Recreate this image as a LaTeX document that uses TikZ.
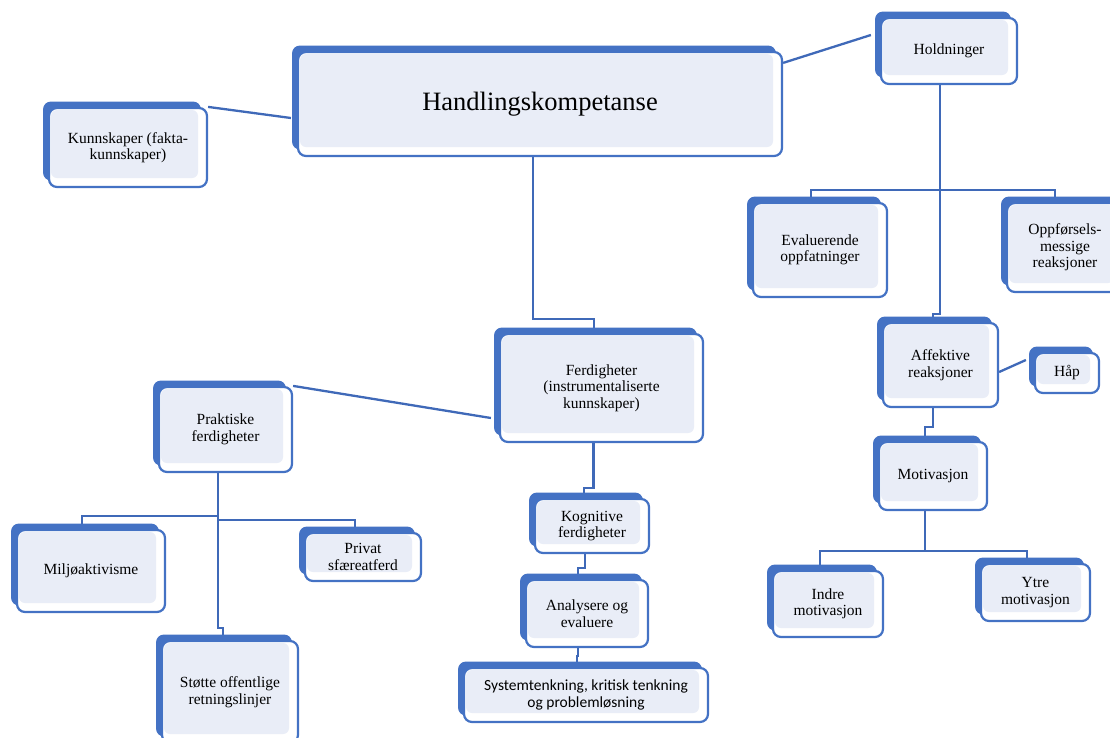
\documentclass[tikz,border=0pt]{standalone}
\usepackage{fontspec}
\setmainfont{Liberation Serif}
\newfontfamily\sysfont{Carlito}
\usepackage{xcolor}
\usepackage{tikz}
\usetikzlibrary{shadows,backgrounds}
\definecolor{boxblue}{HTML}{4472C4}
\definecolor{lineblue}{HTML}{3F69B8}
\definecolor{boxfill}{HTML}{E9EDF7}

\tikzset{
  kbox/.style={draw=boxblue, line width=2.2pt, fill=white, rounded corners=8pt,
    inner sep=0pt, align=center, font=\fontsize{15.5}{16.5}\selectfont,
    general shadow={fill=boxblue, draw=none, shadow xshift=-6pt, shadow yshift=6.5pt},
    path picture={\fill[boxfill, rounded corners=6pt]
      ([shift={(2pt,-2pt)}]path picture bounding box.north west) rectangle
      ([shift={(-9pt,9pt)}]path picture bounding box.south east);}},
  link/.style={draw=lineblue, line width=2.3pt},
}

\begin{document}
\begin{tikzpicture}[x=1pt,y=-1pt]
\useasboundingbox (0,0) rectangle (1110,737);

\node[kbox, minimum width=484pt, minimum height=104pt, font=\fontsize{26.5}{28}\selectfont] (hk) at (540,104) {Handlingskompetanse};
\node[kbox, minimum width=158pt, minimum height=79pt] (kunn) at (128,147.5) {Kunnskaper (fakta-\\kunnskaper)};
\node[kbox, minimum width=136pt, minimum height=66pt] (hold) at (949,51) {Holdninger};

% ferdigheter
\node[kbox, minimum width=203pt, minimum height=108pt] (ferd) at (601.5,388) {Ferdigheter\\(instrumentaliserte\\kunnskaper)};
\node[kbox, minimum width=133pt, minimum height=85pt] (prak) at (225.5,429.5) {Praktiske\\ferdigheter};
\node[kbox, minimum width=148pt, minimum height=82pt] (milj) at (91,571) {Miljøaktivisme};
\node[kbox, minimum width=116pt, minimum height=48pt] (priv) at (363,557) {Privat\\sfæreatferd};
\node[kbox, minimum width=136pt, minimum height=102pt] (stotte) at (230,692) {Støtte offentlige\\retningslinjer};
\node[kbox, minimum width=114pt, minimum height=54pt] (kog) at (592,526) {Kognitive\\ferdigheter};
\node[kbox, minimum width=122pt, minimum height=67pt] (ana) at (587,613.5) {Analysere og\\evaluere};
\node[kbox, minimum width=244pt, minimum height=54pt, font=\sysfont\fontsize{15.5}{16.5}\selectfont] (sys) at (586,695) {Systemtenkning, kritisk tenkning\\og problemløsning};

% holdninger
\node[kbox, minimum width=134pt, minimum height=94pt] (eval) at (820,250) {Evaluerende\\oppfatninger};
\node[kbox, minimum width=116pt, minimum height=89pt] (oppf) at (1065,247.5) {Oppførsels-\\messige\\reaksjoner};
\node[kbox, minimum width=115pt, minimum height=84pt] (aff) at (940.5,365) {Affektive\\reaksjoner};
\node[kbox, minimum width=64pt, minimum height=40pt] (hap) at (1067,373) {Håp};
\node[kbox, minimum width=108pt, minimum height=68pt] (motiv) at (933,476) {Motivasjon};
\node[kbox, minimum width=110pt, minimum height=66pt] (indre) at (828,604) {Indre\\motivasjon};
\node[kbox, minimum width=109pt, minimum height=57pt] (ytre) at (1035.5,592.5) {Ytre\\motivasjon};

\begin{scope}[on background layer]
\draw[link] (kunn.north east) -- ([shift={(-6,14)}]hk.west);
\draw[link] ([shift={(0,12)}]hk.north east) -- ([shift={(-9,-16)}]hold.west);
\draw[link] ([shift={(-7,0)}]hk.south) -- ++(0,162) -| ([shift={(-7.5,0)}]ferd.north);

\draw[link] ([shift={(-8,30)}]ferd.west) -- (prak.north east);
\draw[link] ([shift={(-8,0)}]ferd.south) -- ++(0,45) -| ([shift={(-8,0)}]kog.north);
\draw[link] ([shift={(-7,0)}]kog.south) -- ++(0,14) -| ([shift={(-9,0)}]ana.north);
\draw[link] ([shift={(-9,0)}]ana.south) -- ++(0,8) -| ([shift={(-9,0)}]sys.north);

\draw[link] ([shift={(-7.5,0)}]prak.south) -- ++(0,155) -| ([shift={(-7,0)}]stotte.north);
\draw[link] ([shift={(-7.5,43)}]prak.south) -| ([shift={(-9,0)}]milj.north);
\draw[link] ([shift={(-7.5,47)}]prak.south) -| ([shift={(-8,0)}]priv.north);

\draw[link] ([shift={(-9,0)}]hold.south) -- ++(0,229) -| ([shift={(-7.5,0)}]aff.north);
\draw[link] ([shift={(-9,105)}]hold.south) -| ([shift={(-9,0)}]eval.north);
\draw[link] ([shift={(-9,105)}]hold.south) -| ([shift={(-10,0)}]oppf.north);

\draw[link] ([shift={(0,7)}]aff.east) -- ([shift={(-8,-13)}]hap.west);
\draw[link] ([shift={(-7.5,0)}]aff.south) -- ++(0,19) -| ([shift={(-8,0)}]motiv.north);
\draw[link] ([shift={(-8,0)}]motiv.south) -- ++(0,40) -| ([shift={(-8,0)}]indre.north);
\draw[link] ([shift={(-8,0)}]motiv.south) -- ++(0,40) -| ([shift={(-8.5,0)}]ytre.north);
\end{scope}
\end{tikzpicture}
\end{document}
